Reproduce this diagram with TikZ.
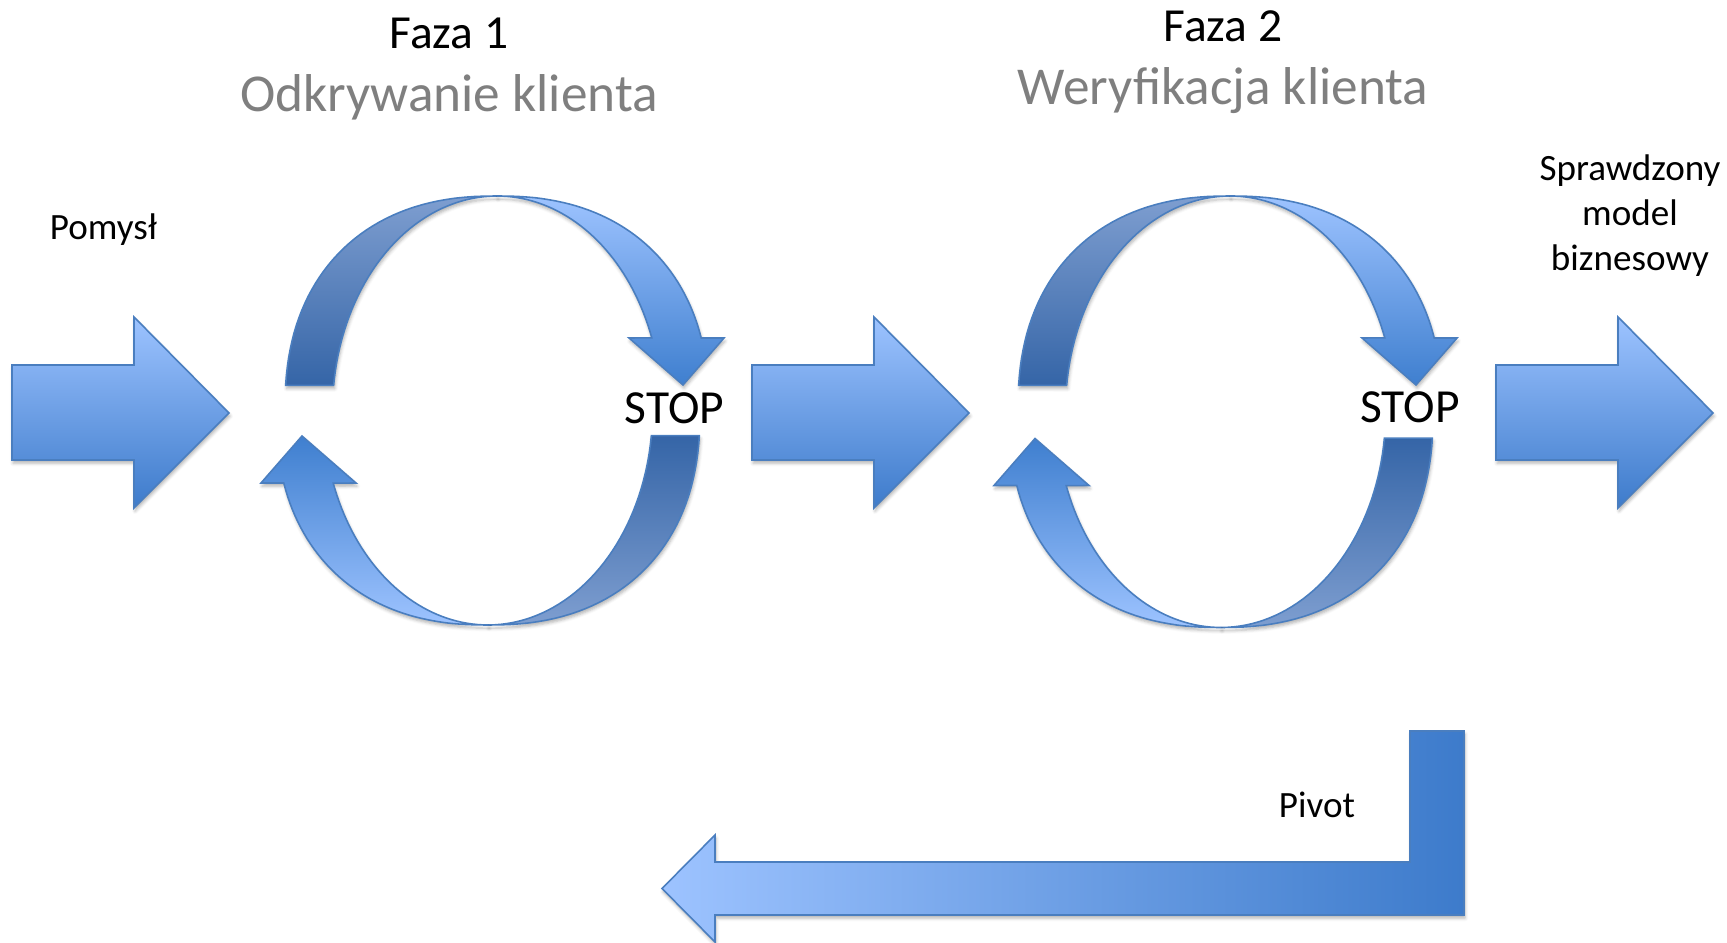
\documentclass[tikz,border=0pt]{standalone}
\usepackage{fontspec}
\setmainfont{Carlito}
\usetikzlibrary{shadows.blur}
\definecolor{bordc}{HTML}{4A7EBF}
\definecolor{lightb}{HTML}{9DC3FF}
\definecolor{darkb}{HTML}{3D7BCB}
\definecolor{midb}{HTML}{3F7FCF}
\definecolor{greyb}{HTML}{7E9ED0}
\definecolor{deepb}{HTML}{3565A7}
\definecolor{subgray}{HTML}{7F7F7F}
\tikzset{
  shapefx/.style={draw=bordc, line width=0.45pt, line join=miter,
    blur shadow={shadow xshift=0.3pt, shadow yshift=-0.9pt, shadow blur radius=0.9pt, shadow opacity=30}},
  blockarrow/.style={shapefx, top color=lightb, bottom color=darkb},
  phase/.style={font=\fontsize{13.5}{16}\selectfont, text=black},
  phasesub/.style={font=\fontsize{15.15}{18}\selectfont, text=subgray},
  stoplbl/.style={font=\fontsize{13.5}{16}\selectfont, text=black, inner sep=0pt},
  smalllbl/.style={font=\fontsize{10.55}{12.9}\selectfont, text=black, align=center}
}
\newcommand{\drawcycle}[2]{%
\begin{scope}[shift={(#1,0)}]
  % upper-left quarter
  \path[shapefx, top color=greyb, bottom color=deepb]
    plot[domain=175.15:90, samples=40, variable=\t]
      ({497-212*pow(abs(cos(\t))+0.0001,0.8696)},{-410.5+214.5*pow(abs(sin(\t)),0.8696)})
    -- plot[domain=90:173.29, samples=40, variable=\t]
      ({497+164.5*cos(\t)},{-410.5+214.5*sin(\t)}) -- cycle;
  % upper-right quarter with head
  \path[shapefx, top color=lightb, bottom color=midb]
    plot[domain=90:16.70, samples=40, variable=\t]
      ({497+212*pow(abs(cos(\t))+0.0001,0.8696)},{-410.5+214.5*pow(abs(sin(\t)),0.8696)})
    -- (724,-338) -- (683,-385) -- (629,-338)
    -- plot[domain=19.80:90, samples=40, variable=\t]
      ({497+164.5*cos(\t)},{-410.5+214.5*sin(\t)}) -- cycle;
\end{scope}
\begin{scope}[shift={(#1,#2)}]
  % lower-right quarter
  \path[shapefx, top color=deepb, bottom color=greyb]
    plot[domain=175.15:90, samples=40, variable=\t]
      ({488+212*pow(abs(cos(\t))+0.0001,0.8696)},{-410.5-214.5*pow(abs(sin(\t)),0.8696)})
    -- plot[domain=90:173.29, samples=40, variable=\t]
      ({488-164.5*cos(\t)},{-410.5-214.5*sin(\t)}) -- cycle;
  % lower-left quarter with head
  \path[shapefx, top color=midb, bottom color=lightb]
    plot[domain=90:16.70, samples=40, variable=\t]
      ({488-212*pow(abs(cos(\t))+0.0001,0.8696)},{-410.5-214.5*pow(abs(sin(\t)),0.8696)})
    -- (261,-483) -- (302,-436) -- (356,-483)
    -- plot[domain=19.80:90, samples=40, variable=\t]
      ({488-164.5*cos(\t)},{-410.5-214.5*sin(\t)}) -- cycle;
\end{scope}}
\begin{document}
\begin{tikzpicture}[x=0.01cm, y=0.01cm]
\useasboundingbox (0,0) rectangle (1727,-943);
% block arrows
\path[blockarrow] (12,-365) -- (134,-365) -- (134,-317) -- (229,-413) -- (134,-508) -- (134,-460) -- (12,-460) -- cycle;
\path[blockarrow] (752,-365) -- (874,-365) -- (874,-317) -- (969,-413) -- (874,-508) -- (874,-460) -- (752,-460) -- cycle;
\path[blockarrow] (1496,-365) -- (1618,-365) -- (1618,-317) -- (1713,-413) -- (1618,-508) -- (1618,-460) -- (1496,-460) -- cycle;
% cycles
\drawcycle{0}{0}
\drawcycle{733}{-2.5}
% pivot arrow
\path[shapefx, left color=lightb, right color=darkb]
  (1464,-731) -- (1464,-915) -- (715,-915) -- (715,-942) -- (662,-888.5) -- (715,-835) -- (715,-862) -- (1410,-862) -- (1410,-731) -- cycle;
% texts
\node[phase] (faza1) at (449,-33) {Faza 1};
\node[phasesub] (odkr) at (449,-97.5) {Odkrywanie klienta};
\node[phase] (faza2) at (1223,-26) {Faza 2};
\node[phasesub] (wery) at (1223,-90.5) {Weryfikacja klienta};
\node[stoplbl] (stop1) at (674.5,-408) {STOP};
\node[stoplbl] (stop2) at (1410,-407) {STOP};
\node[smalllbl] (pomysl) at (103.5,-230) {Pomysł};
\node[smalllbl] (model) at (1630,-215.5) {Sprawdzony\\model\\biznesowy};
\node[smalllbl] (pivot) at (1317,-805) {Pivot};
\end{tikzpicture}
\end{document}
